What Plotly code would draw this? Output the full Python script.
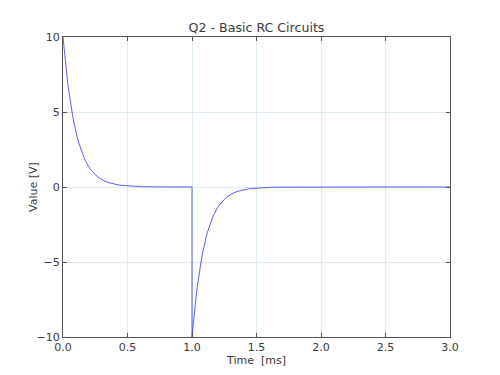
import plotly.graph_objects as go

# Time samples [ms] and voltage values [V]
time_ms = [0.0, 0.005, 0.01, 0.015, 0.02, 0.025, 0.03, 0.035, 0.04, 0.045, 0.05,
           0.055, 0.06, 0.065, 0.07, 0.075, 0.08, 0.085, 0.09, 0.095, 0.10,
           0.11, 0.12, 0.13, 0.14, 0.15, 0.16, 0.17, 0.18, 0.19, 0.20,
           0.215, 0.23, 0.245, 0.26, 0.28, 0.30, 0.325, 0.35, 0.375, 0.40, 0.425, 0.45,
           0.50, 0.55, 0.60, 0.70, 0.80, 0.90, 1.00,
           1.00, 1.005, 1.01, 1.015, 1.02, 1.025, 1.03, 1.035, 1.04, 1.045, 1.05,
           1.055, 1.06, 1.065, 1.07, 1.075, 1.08, 1.085, 1.09, 1.095, 1.10,
           1.11, 1.12, 1.13, 1.14, 1.15, 1.16, 1.17, 1.18, 1.19, 1.20,
           1.215, 1.23, 1.245, 1.26, 1.28, 1.30, 1.325, 1.35, 1.375, 1.40, 1.425, 1.45,
           1.50, 1.55, 1.60, 1.70, 1.80, 1.90, 2.00, 2.50, 3.00]
value_v = [10.0, 9.512, 9.048, 8.607, 8.187, 7.788, 7.408, 7.047, 6.703, 6.376, 6.065,
           5.769, 5.488, 5.220, 4.966, 4.724, 4.493, 4.274, 4.066, 3.867, 3.679,
           3.329, 3.012, 2.725, 2.466, 2.231, 2.019, 1.827, 1.653, 1.496, 1.353,
           1.165, 1.003, 0.863, 0.743, 0.608, 0.498, 0.388, 0.302, 0.235, 0.183, 0.143, 0.111,
           0.067, 0.041, 0.025, 0.009, 0.003, 0.001, 0.0,
           -10.0, -9.512, -9.048, -8.607, -8.187, -7.788, -7.408, -7.047, -6.703, -6.376, -6.065,
           -5.769, -5.488, -5.220, -4.966, -4.724, -4.493, -4.274, -4.066, -3.867, -3.679,
           -3.329, -3.012, -2.725, -2.466, -2.231, -2.019, -1.827, -1.653, -1.496, -1.353,
           -1.165, -1.003, -0.863, -0.743, -0.608, -0.498, -0.388, -0.302, -0.235, -0.183, -0.143, -0.111,
           -0.067, -0.041, -0.025, -0.009, -0.003, -0.001, 0.0, 0.0, 0.0]

x_ticks = [0.0, 0.5, 1.0, 1.5, 2.0, 2.5, 3.0]
x_tick_labels = ["0.0", "0.5", "1.0", "1.5", "2.0", "2.5", "3.0"]
y_ticks = [-10, -5, 0, 5, 10]

font_family = "DejaVu Sans, Liberation Sans, sans-serif"
text_color = "#3a3a3a"
grid_color = "#dcecf2"
frame_color = "#555555"

fig = go.Figure()
fig.add_trace(go.Scatter(
    x=time_ms, y=value_v, mode="lines",
    line=dict(color="rgba(50,50,255,0.8)", width=1),
    hoverinfo="skip", showlegend=False,
))

axis_common = dict(
    showgrid=True, gridcolor=grid_color, gridwidth=1,
    zeroline=False, showline=True, linecolor=frame_color, linewidth=1,
    mirror="ticks", ticks="inside", ticklen=4, tickcolor=frame_color,
    tickfont=dict(family=font_family, size=11, color=text_color),
)

fig.update_layout(
    width=500, height=375,
    margin=dict(l=55, r=58, t=29, b=46),
    paper_bgcolor="white", plot_bgcolor="white",
    title=dict(text="Q2 - Basic RC Circuits", x=0.5, xref="paper", xanchor="center",
               y=0.949, yanchor="middle",
               font=dict(family=font_family, size=12.6, color=text_color)),
    xaxis=dict(range=[0, 3], tickvals=x_ticks, ticktext=x_tick_labels,
               title=dict(text="Time\u00a0\u00a0[ms]", standoff=0,
                          font=dict(family=font_family, size=11, color=text_color)),
               **axis_common),
    yaxis=dict(range=[-10, 10], tickvals=y_ticks, **axis_common),
    annotations=[dict(text="Value [V]", textangle=-90, xref="paper", yref="paper",
                      x=0, y=0.5, xanchor="center", yanchor="middle", xshift=-30,
                      showarrow=False,
                      font=dict(family=font_family, size=11, color=text_color))],
)

fig.write_html("out.html")
